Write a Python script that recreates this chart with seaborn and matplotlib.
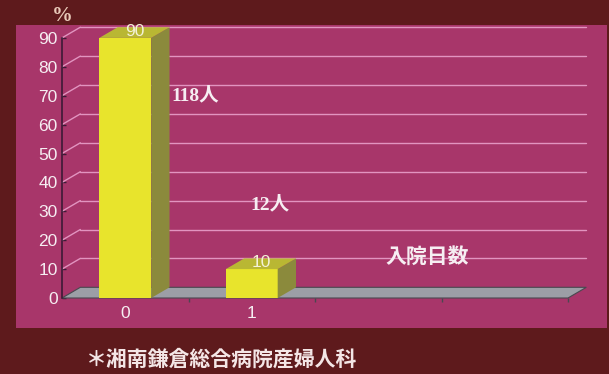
import matplotlib
matplotlib.use("Agg")
import matplotlib.pyplot as plt
import seaborn as sns
import pandas as pd
from matplotlib.patches import Polygon, Rectangle

# ---- data ----
days = ["0", "1"]
percent = [90, 10]
value_labels = ["90", "10"]
n_slots = 4
yticks = [0, 10, 20, 30, 40, 50, 60, 70, 80, 90]
count_labels = ["118人", "12人"]
xlabel = "入院日数"
ylabel = "%"
note = "＊湘南鎌倉総合病院産婦人科"

# ---- style ----
MAROON = "#5e1a1c"
PINK = "#a8366a"
FRONT = "#e8e42c"
TOP = "#b9b733"
SIDE = "#8b8a3c"
FLOOR = "#9c9ea6"
GRID = "#e294c0"
DARK = "#3c1a36"
TXT = "#f6eef2"
DX, DY = 0.145, 3.7

sns.set_theme(style="white")
plt.rcParams['font.family'] = ['Liberation Sans', 'Noto Sans CJK JP']

fig = plt.figure(figsize=(6.09, 3.74), dpi=100, facecolor=MAROON)
fig.patches.append(Rectangle((16 / 609, 46 / 374), 591 / 609, 303 / 374,
                             transform=fig.transFigure, facecolor=PINK,
                             edgecolor="none", zorder=-5))
ax = fig.add_axes([62 / 609, 76 / 374, 506 / 609, 289 / 374])
ax.set_facecolor("none")
ax.set_zorder(2)

df = pd.DataFrame({"day": days, "pct": percent})
sns.barplot(data=df, x="day", y="pct", order=days, color=FRONT, width=0.41,
            saturation=1, ax=ax, zorder=4, edgecolor="none", linewidth=0)

xmin, xmax = -0.5, n_slots - 0.5
ax.set_xlim(xmin, xmax)
ax.set_ylim(0, 100)

# back wall gridlines + left wall diagonals
for v in yticks[1:]:
    ax.plot([xmin + DX, xmax + DX], [v + DY, v + DY], color=GRID, lw=1.0,
            zorder=1, clip_on=False)
    ax.plot([xmin, xmin + DX], [v, v + DY], color=GRID, lw=1.0, zorder=1,
            clip_on=False)

# floor
ax.add_patch(Polygon([(xmin, 0), (xmax, 0), (xmax + DX, DY), (xmin + DX, DY)],
                     closed=True, facecolor=FLOOR, edgecolor="#4a4850",
                     lw=0.8, zorder=2, clip_on=False))

# 3D faces of bars
bars = [p for p in ax.patches if isinstance(p, Rectangle)][:len(days)]
for p, lab in zip(bars, value_labels):
    x0 = p.get_x()
    x1 = x0 + p.get_width()
    h = p.get_height()
    ax.add_patch(Polygon([(x1, 0), (x1 + DX, DY), (x1 + DX, h + DY), (x1, h)],
                         closed=True, facecolor=SIDE, edgecolor="none",
                         zorder=4, clip_on=False))
    ax.add_patch(Polygon([(x0, h), (x1, h), (x1 + DX, h + DY), (x0 + DX, h + DY)],
                         closed=True, facecolor=TOP, edgecolor="none",
                         zorder=4, clip_on=False))
    ax.text((x0 + x1) / 2 + DX / 2, h + DY / 2 + 0.3, lab, ha="center",
            va="center", color="#f4f2d8", fontsize=12.5, zorder=6)

# axes styling
for s in ["top", "right", "bottom"]:
    ax.spines[s].set_visible(False)
ax.spines["left"].set_color(DARK)
ax.spines["left"].set_linewidth(1.2)
ax.spines["left"].set_bounds(0, 90)
ax.spines["left"].set_zorder(5)
ax.set_yticks(yticks)
ax.set_yticklabels([str(v) for v in yticks])
ax.tick_params(axis="y", direction="in", length=3, width=1, color=DARK,
               labelcolor=TXT, labelsize=12.5, pad=3, left=True)
ax.set_xticks(range(len(days)))
ax.set_xticklabels(days)
ax.set_xticks([i + 0.5 for i in range(n_slots)], minor=True)
ax.tick_params(axis="x", which="major", length=0, labelcolor=TXT,
               labelsize=12.5, pad=6)
ax.tick_params(axis="x", which="minor", direction="out", length=3, width=1,
               color="#4a4850", bottom=True)
ax.set_xlabel("")
ax.set_ylabel("")
ax.grid(False)

# annotations
ax.text(0.551, 70.2, count_labels[0], ha="center", va="center", color=TXT,
        fontsize=14, fontweight="bold",
        family=["Liberation Serif", "Noto Sans CJK JP"], zorder=6)
ax.text(1.144, 32.2, count_labels[1], ha="center", va="center", color=TXT,
        fontsize=14, fontweight="bold",
        family=["Liberation Serif", "Noto Sans CJK JP"], zorder=6)
ax.text(2.385, 14.4, xlabel, ha="center", va="center", color=TXT,
        fontsize=15, fontweight="bold", zorder=6)
fig.text(62 / 609, 1 - 16 / 374, ylabel, ha="center", va="center",
         color="#e8c8b8", fontsize=15, fontweight="bold",
         family=["Liberation Serif"])
fig.text(86 / 609, 1 - 359 / 374, note, ha="left", va="center",
         color="#f4e6e6", fontsize=15, fontweight="bold")

fig.savefig("out.png", dpi=100, facecolor=MAROON)
